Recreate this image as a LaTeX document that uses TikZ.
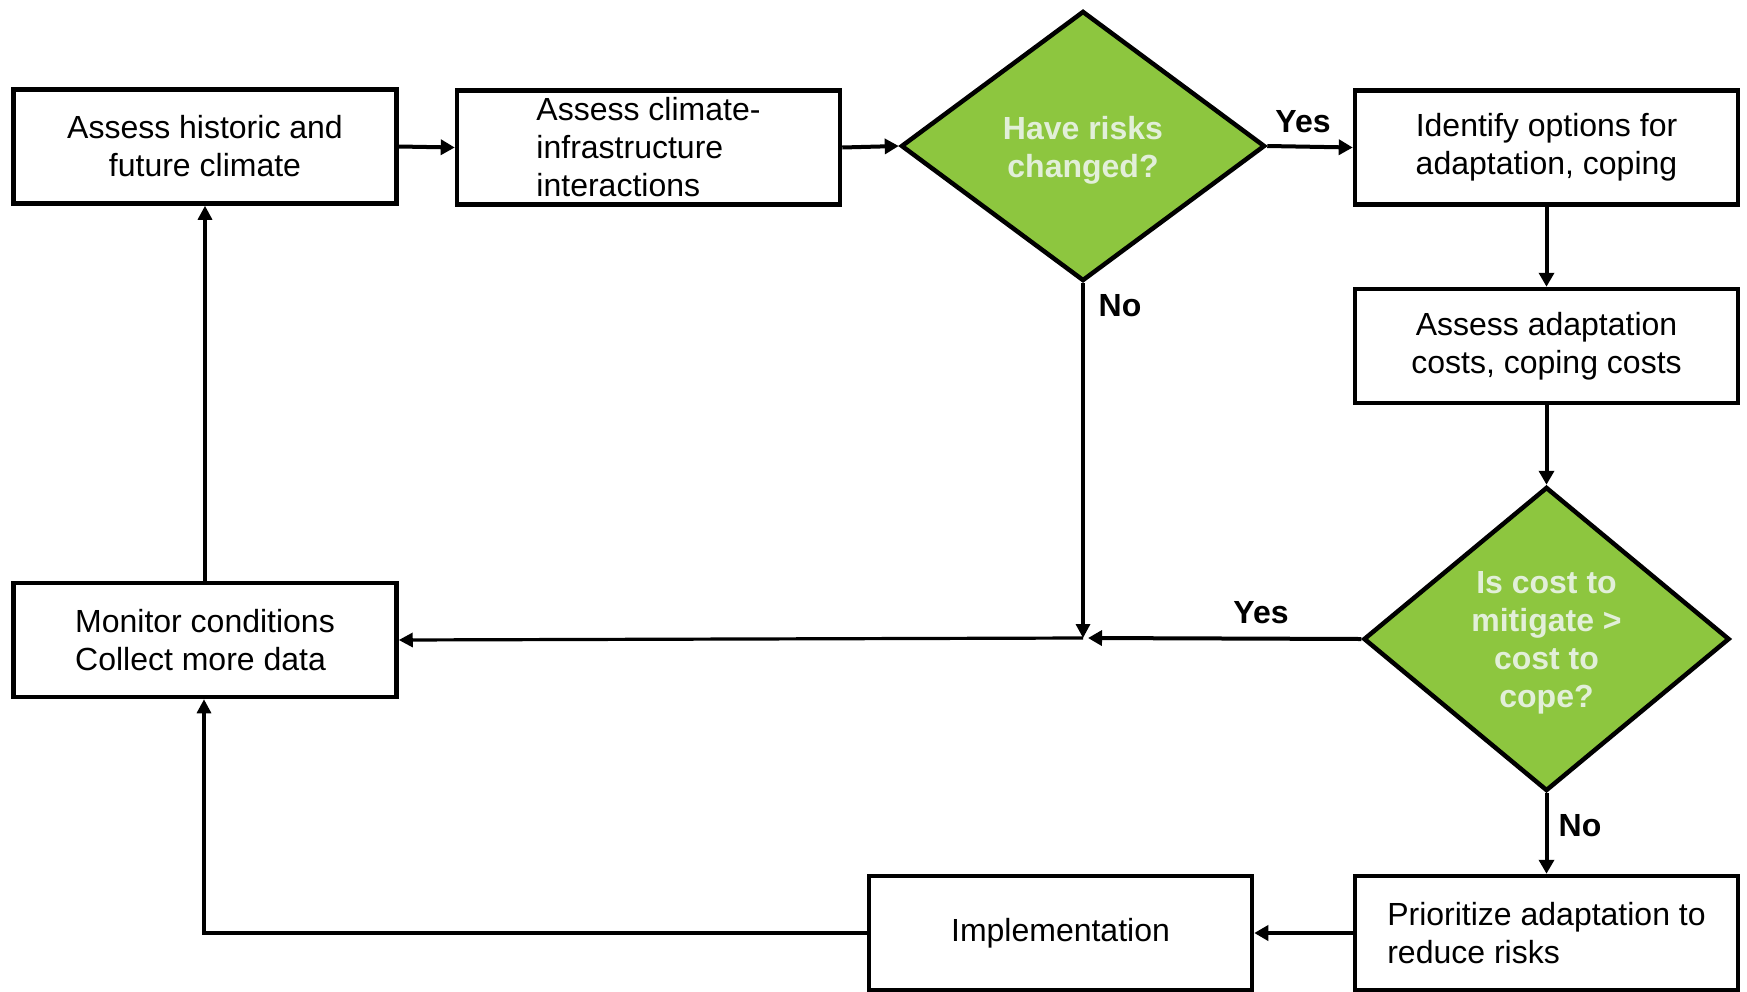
\documentclass[tikz,border=0pt]{standalone}
\usepackage{fontspec}
\setmainfont{Liberation Sans}
\usetikzlibrary{shapes.geometric,arrows.meta}
\definecolor{dgreen}{RGB}{141,198,63}
\definecolor{dtxt}{RGB}{226,239,217}
\begin{document}
\begin{tikzpicture}[x=1pt,y=-1pt,
  every node/.style={font=\fontsize{32}{38}\selectfont},
  box/.style={draw=black,line width=4.5pt,fill=white,minimum width=383pt,minimum height=114pt,inner sep=0pt},
  dia/.style={diamond,draw=black,line width=4.5pt,fill=dgreen,inner sep=0pt},
  dtext/.style={text=dtxt,font=\fontsize{32}{38}\selectfont\bfseries,align=center},
  lab/.style={font=\fontsize{32}{38}\selectfont\bfseries},
  thk/.style={line width=4pt,-{Triangle[length=14pt,width=15pt]}},
  thn/.style={line width=3.2pt,-{Triangle[length=14pt,width=14pt]}}]
\useasboundingbox (0,0) rectangle (1747,991);
% boxes
\node[box,align=center] (b1) at (205,146.5) {Assess historic and\\future climate};
\node[box,align=left] (b2) at (648.5,147.5) {Assess climate-\\infrastructure\\interactions};
\node[box,align=center] (b3) at (1546.5,147.5) {Identify options for\\adaptation, coping};
\node[box,align=center] (b4) at (1546.5,346) {Assess adaptation\\costs, coping costs};
\node[box,align=left] (b5) at (205,640) {Monitor conditions\\Collect more data};
\node[box,align=center] (b6) at (1060.5,933) {Implementation};
\node[box,align=left] (b7) at (1546.5,933) {Prioritize adaptation to\\reduce risks};
% diamonds
\node[dia,minimum width=364pt,minimum height=270pt] (d1) at (1083,146) {};
\node[dtext] (d1t) at (1083,150) {Have risks\\changed?};
\node[dia,minimum width=366pt,minimum height=304pt] (d2) at (1546.5,639) {};
\node[dtext] (d2t) at (1546.5,643) {Is cost to\\mitigate >\\cost to\\cope?};
% junction
\coordinate (j) at (1083,638);
% connectors
\draw[thk] (b1.east) -- (b2.west);
\draw[thk] (b2.east) -- (d1.west);
\draw[thk] (d1.east) -- (b3.west);
\draw[thk] (b3.south) -- (b4.north);
\draw[thk] (b4.south) -- (d2.north);
\draw[thn] (d1.south) -- (j);
\draw[thk] (d2.west) -- ([xshift=5pt]j);
\draw[thn] (j) -- (b5.east);
\draw[thk] (d2.south) -- (b7.north);
\draw[thk] (b7.west) -- (b6.east);
\draw[thn] (b6.west) -- (204,933) -- (b5.south -| 204,0);
\draw[thn] (b5.north) -- (b1.south);
% labels
\node[lab] (y1) at (1303,122) {Yes};
\node[lab] (n1) at (1120,306) {No};
\node[lab] (y2) at (1261,613) {Yes};
\node[lab] (n2) at (1580,826) {No};
\end{tikzpicture}
\end{document}
